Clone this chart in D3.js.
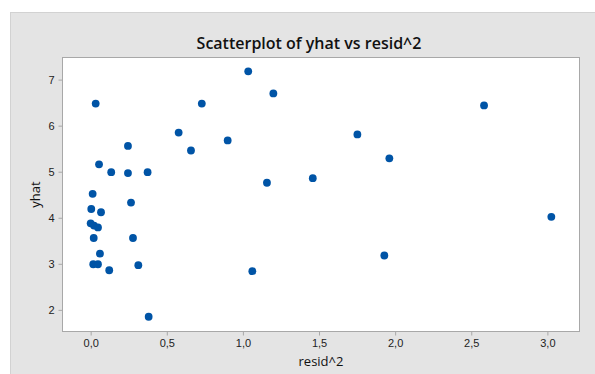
<!DOCTYPE html>
<html>
<head>
<meta charset="utf-8">
<script src="https://cdnjs.cloudflare.com/ajax/libs/d3/7.8.5/d3.min.js"></script>
<style>
body { margin: 0; background: #fff; }
svg { font-family: "Open Sans", "Noto Sans", sans-serif; }
.tick text { fill: #222; font-size: 11px; }
</style>
</head>
<body>
<script>

// resid^2 (x) and yhat (y)
var residSq = [1.035, 0.033, 0.73, 1.20, 2.584, 0.578, 0.90, 0.659, 0.245, 1.752,
               0.055, 0.135, 0.245, 0.374, 1.962, 1.158, 1.459, 0.013, 0.265, 0.004,
               0.068, 3.026, 0.0, 0.022, 0.048, 0.02, 0.278, 0.061, 1.929, 0.017,
               0.048, 0.313, 0.122, 1.062, 0.381];
var yhat = [7.18, 6.48, 6.48, 6.70, 6.44, 5.85, 5.68, 5.46, 5.56, 5.81,
            5.16, 4.99, 4.97, 4.99, 5.29, 4.76, 4.86, 4.52, 4.33, 4.19,
            4.12, 4.02, 3.88, 3.83, 3.79, 3.56, 3.56, 3.22, 3.18, 2.99,
            2.99, 2.97, 2.86, 2.84, 1.85];
var xTicks = [0, 0.5, 1, 1.5, 2, 2.5, 3];
var yTicks = [2, 3, 4, 5, 6, 7];

var W = 595, H = 374;
var plot = {left: 62.5, top: 57.5, right: 579.5, bottom: 331.5};

var svg = d3.select('body').append('svg')
  .attr('width', W).attr('height', H);

svg.append('rect')
  .attr('x', 10.5).attr('y', 12.5)
  .attr('width', W).attr('height', H)
  .attr('fill', '#e4e4e4').attr('stroke', '#d2d2d2');

svg.append('rect')
  .attr('x', plot.left).attr('y', plot.top)
  .attr('width', plot.right - plot.left).attr('height', plot.bottom - plot.top)
  .attr('fill', '#fff').attr('stroke', '#a8a8a8');

var x = d3.scaleLinear().domain([-0.185, 3.211]).range([plot.left, plot.right]);
var y = d3.scaleLinear().domain([1.53, 7.48]).range([plot.bottom, plot.top]);

var fmt = function(d) { return d3.format('.1f')(d).replace('.', ','); };

var xAxis = svg.append('g')
  .attr('transform', 'translate(0,' + plot.bottom + ')')
  .call(d3.axisBottom(x).tickValues(xTicks).tickFormat(fmt).tickSize(4).tickPadding(4));
var yAxis = svg.append('g')
  .attr('transform', 'translate(' + plot.left + ',0)')
  .call(d3.axisLeft(y).tickValues(yTicks).tickFormat(d3.format('d')).tickSize(4).tickPadding(4));

[xAxis, yAxis].forEach(function(g) {
  g.select('.domain').remove();
  g.selectAll('.tick line').attr('stroke', '#a8a8a8');
});

svg.append('g').selectAll('circle')
  .data(residSq)
  .enter().append('circle')
  .attr('cx', function(d) { return x(d); })
  .attr('cy', function(d, i) { return y(yhat[i]); })
  .attr('r', 3.9)
  .attr('fill', '#0054a6');

svg.append('text')
  .attr('x', 309).attr('y', 49)
  .attr('text-anchor', 'middle')
  .attr('font-size', 16)
  .attr('font-weight', 600)
  .attr('fill', '#111')
  .text('Scatterplot of yhat vs resid^2');

svg.append('text')
  .attr('x', (plot.left + plot.right) / 2).attr('y', 366)
  .attr('text-anchor', 'middle')
  .attr('font-size', 13)
  .attr('fill', '#111')
  .text('resid^2');

svg.append('text')
  .attr('transform', 'translate(40,' + ((plot.top + plot.bottom) / 2) + ') rotate(-90)')
  .attr('text-anchor', 'middle')
  .attr('font-size', 13)
  .attr('fill', '#111')
  .text('yhat');

</script>
</body>
</html>
